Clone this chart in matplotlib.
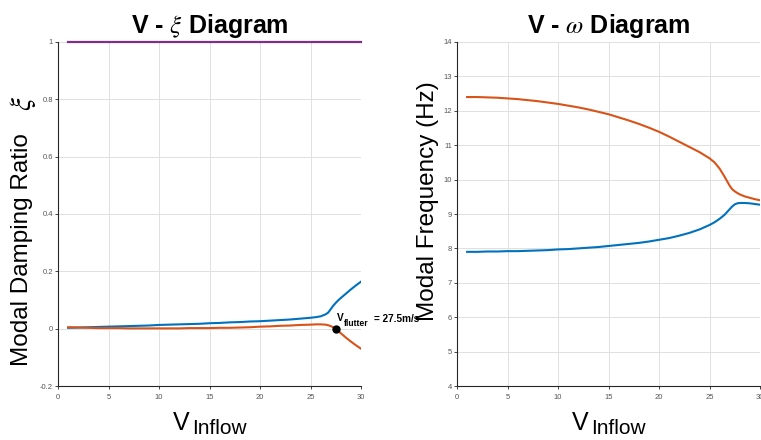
import matplotlib
matplotlib.use("Agg")
import matplotlib.pyplot as plt
from matplotlib.ticker import FuncFormatter

plt.rcParams['font.family'] = ['Liberation Sans', 'DejaVu Sans']
plt.rcParams['mathtext.fontset'] = 'stix'

# ---- data ----
V = [1, 2, 3, 4, 5, 6, 7, 8, 9, 10, 11, 12, 13, 14, 15, 16, 17, 18, 19, 20,
     21, 22, 23, 24, 25, 25.5, 26, 26.5, 26.75, 27, 27.25, 27.5, 27.75, 28,
     28.5, 29, 29.5, 30]

damp_mode1 = [0.003, 0.004, 0.005, 0.006, 0.007, 0.008, 0.009, 0.010, 0.011, 0.013,
              0.014, 0.015, 0.016, 0.017, 0.019, 0.020, 0.022, 0.023, 0.025, 0.026,
              0.028, 0.030, 0.032, 0.035, 0.038, 0.040, 0.043, 0.050, 0.056, 0.068,
              0.080, 0.090, 0.099, 0.107, 0.122, 0.137, 0.151, 0.164]
damp_mode2 = [0.005, 0.004, 0.003, 0.002, 0.002, 0.002, 0.001, 0.001, 0.001, 0.001,
              0.001, 0.001, 0.002, 0.002, 0.002, 0.003, 0.003, 0.004, 0.005, 0.007,
              0.008, 0.010, 0.011, 0.013, 0.014, 0.015, 0.015, 0.014, 0.012, 0.009,
              0.005, 0.000, -0.008, -0.016, -0.031, -0.045, -0.058, -0.070]
damp_mode3 = [1.0] * len(V)

freq_mode1 = [7.90, 7.90, 7.91, 7.91, 7.92, 7.92, 7.93, 7.94, 7.95, 7.97,
              7.98, 8.00, 8.02, 8.04, 8.07, 8.10, 8.13, 8.16, 8.20, 8.25,
              8.30, 8.37, 8.45, 8.55, 8.68, 8.76, 8.86, 8.98, 9.06, 9.14,
              9.22, 9.28, 9.31, 9.32, 9.32, 9.31, 9.29, 9.27]
freq_mode2 = [12.40, 12.40, 12.39, 12.38, 12.36, 12.34, 12.31, 12.28, 12.24, 12.20,
              12.15, 12.10, 12.04, 11.97, 11.90, 11.81, 11.72, 11.62, 11.51, 11.39,
              11.25, 11.10, 10.95, 10.80, 10.62, 10.50, 10.32, 10.08, 9.95, 9.82,
              9.72, 9.66, 9.61, 9.57, 9.51, 9.47, 9.43, 9.40]

V_flutter = 27.5
flutter_label_V = "V"
flutter_label_sub = "flutter"
flutter_label_val = "= 27.5m/s"

x_ticks = [0, 5, 10, 15, 20, 25, 30]
damp_ticks = [-0.2, 0, 0.2, 0.4, 0.6, 0.8, 1.0]
freq_ticks = [4, 5, 6, 7, 8, 9, 10, 11, 12, 13, 14]

BLUE = '#0072BD'
ORANGE = '#D95319'
PURPLE = '#7E2F8E'
AXC = '#262626'
TICKC = '#555555'

W, H = 761, 440
fig = plt.figure(figsize=(W / 100, H / 100), dpi=100)
ax1 = fig.add_axes([58 / W, 54 / H, 303 / W, 344 / H])
ax2 = fig.add_axes([457 / W, 54 / H, 303 / W, 344 / H])

fmt = FuncFormatter(lambda v, p: ('%g' % round(v, 3)))

for ax in (ax1, ax2):
    ax.set_xlim(0, 30)
    ax.set_xticks(x_ticks)
    ax.xaxis.set_major_formatter(fmt)
    ax.spines['top'].set_visible(False)
    ax.spines['right'].set_visible(False)
    for s in ('left', 'bottom'):
        ax.spines[s].set_color(AXC)
        ax.spines[s].set_linewidth(0.8)
    ax.grid(True, color='#e0e0e0', linewidth=0.7)
    ax.set_axisbelow(True)
    ax.tick_params(axis='both', direction='out', length=2, width=0.6,
                   colors=AXC, labelcolor=TICKC, labelsize=5.5)
    ax.tick_params(axis='x', pad=3.5)
    ax.tick_params(axis='y', pad=1.5)

# left: damping
ax1.set_ylim(-0.2, 1.0)
ax1.set_yticks(damp_ticks)
ax1.yaxis.set_major_formatter(fmt)
ax1.plot(V, damp_mode3, color=PURPLE, lw=1.6, clip_on=False)
ax1.plot(V, damp_mode1, color=BLUE, lw=1.5)
ax1.plot(V, damp_mode2, color=ORANGE, lw=1.5)
ax1.plot([V_flutter], [0], 'o', color='black', ms=5, zorder=5, clip_on=False)
ax1.annotate(flutter_label_V, (V_flutter, 0), xytext=(1, 8), textcoords='offset pixels',
             fontsize=7.3, fontweight='bold', ha='left', va='baseline', annotation_clip=False)
ax1.annotate(flutter_label_sub, (V_flutter, 0), xytext=(8, 3), textcoords='offset pixels',
             fontsize=6.2, fontweight='bold', ha='left', va='baseline', annotation_clip=False)
ax1.annotate(flutter_label_val, (V_flutter, 0), xytext=(38, 7), textcoords='offset pixels',
             fontsize=7.2, fontweight='bold', ha='left', va='baseline', annotation_clip=False)
ax1.set_title(r'V - $\xi$ Diagram', fontsize=18, fontweight='bold', pad=6.3)
ax1.set_ylabel('Modal Damping Ratio', fontsize=17.5)
ax1.yaxis.set_label_coords(-0.083, 0.397)
fig.text(23 / W, (H - 104) / H, r'$\xi$', fontsize=21, rotation=90,
         ha='center', va='center', rotation_mode='anchor')

# right: frequency
ax2.set_ylim(4, 14)
ax2.set_yticks(freq_ticks)
ax2.yaxis.set_major_formatter(fmt)
ax2.plot(V, freq_mode1, color=BLUE, lw=1.5)
ax2.plot(V, freq_mode2, color=ORANGE, lw=1.5)
ax2.set_title(r'V - $\omega$ Diagram', fontsize=18, fontweight='bold', pad=6.3)
ax2.set_ylabel('Modal Frequency (Hz)', fontsize=17.5)
ax2.yaxis.set_label_coords(-0.059, 0.536)

# x labels: V with large subscript
for cx in (209.5, 608.5):
    fig.text((cx - 36.5) / W, (H - 429.5) / H, 'V', fontsize=18, ha='left', va='baseline')
    fig.text((cx - 17.8) / W, (H - 434.3) / H, 'Inflow', fontsize=15, ha='left', va='baseline')

fig.savefig('out.png', dpi=100, facecolor='white')
